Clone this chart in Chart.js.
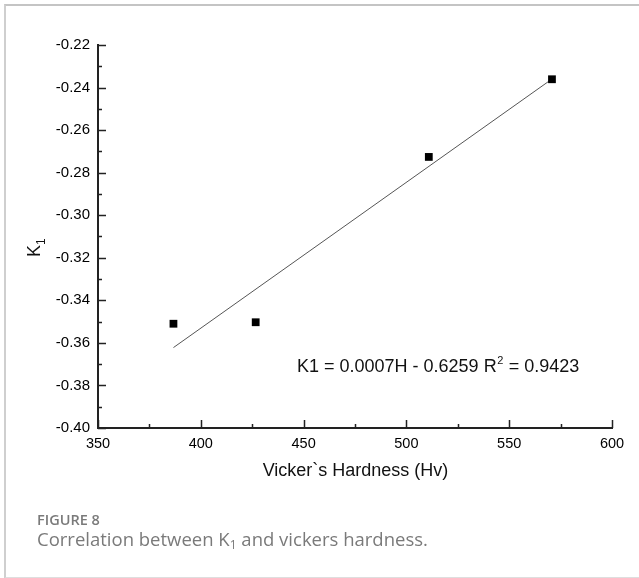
<!DOCTYPE html>
<html>
<head>
<meta charset="utf-8">
<script src="https://cdn.jsdelivr.net/npm/chart.js@4.4.1/dist/chart.umd.min.js"></script>
<style>
  html, body { margin: 0; padding: 0; background: #fff; }
  #wrap { position: relative; width: 639px; height: 578px; overflow: hidden; }
  #frame {
    position: absolute; left: 4px; top: 4px; width: 640px; height: 571px;
    border-top: 2px solid #c4c4c4; border-left: 2px solid #cfcfcf; border-bottom: 2px solid #dedede;
  }
  #chartBox { position: absolute; left: 0; top: 0; width: 639px; height: 578px; }
  .fig { position: absolute; left: 37px; font-family: "Open Sans", sans-serif; color: #7a7a7a; }
  #figNo { top: 510px; font-size: 14.5px; font-weight: 600; }
  #figCap { top: 526px; font-size: 18.5px; }
  #figCap sub { font-size: 12px; vertical-align: -3px; }
</style>
</head>
<body>
<div id="wrap">
  <div id="frame"></div>
  <div id="chartBox"><canvas id="myChart" width="639" height="578"></canvas></div>
  <div class="fig" id="figNo">FIGURE 8</div>
  <div class="fig" id="figCap">Correlation between K<sub>1</sub> and vickers hardness.</div>
</div>
<script>
// measured points
const hardness = [386.7, 426.7, 510.9, 570.8];
const k1 = [-0.351, -0.3503, -0.2726, -0.2361];

// fitted line end points
const fitX = [386.7, 570.8];
const fitY = [-0.3622, -0.2360];

const xTicks = [350, 400, 450, 500, 550, 600];
const yTicks = [-0.40, -0.38, -0.36, -0.34, -0.32, -0.30, -0.28, -0.26, -0.24, -0.22];

const axisFont = "'Liberation Sans', Arial, sans-serif";

// ticks drawn on the inside of the axes, with a minor tick in between
const innerTicks = {
  id: 'innerTicks',
  afterDraw(chart) {
    const ctx = chart.ctx;
    const xs = chart.scales.x, ys = chart.scales.y;
    const area = chart.chartArea;
    ctx.save();
    ctx.strokeStyle = '#222';
    ctx.lineWidth = 1.5;
    ctx.beginPath();
    xTicks.forEach((v, i) => {
      const px = Math.round(xs.getPixelForValue(v)) + 0.5;
      ctx.moveTo(px, area.bottom); ctx.lineTo(px, area.bottom - 8);
      if (i < xTicks.length - 1) {
        const mx = Math.round(xs.getPixelForValue((v + xTicks[i + 1]) / 2)) + 0.5;
        ctx.moveTo(mx, area.bottom); ctx.lineTo(mx, area.bottom - 4);
      }
    });
    yTicks.forEach((v, i) => {
      const py = Math.round(ys.getPixelForValue(v)) + 0.5;
      ctx.moveTo(area.left, py); ctx.lineTo(area.left + 8, py);
      if (i < yTicks.length - 1) {
        const my = Math.round(ys.getPixelForValue((v + yTicks[i + 1]) / 2)) + 0.5;
        ctx.moveTo(area.left, my); ctx.lineTo(area.left + 4, my);
      }
    });
    ctx.stroke();

    // axis titles
    ctx.fillStyle = '#111';
    ctx.font = '18px ' + axisFont;
    ctx.textAlign = 'center';
    ctx.textBaseline = 'middle';
    ctx.fillText('Vicker`s Hardness (Hv)', 355.5, 471);

    ctx.save();
    ctx.translate(40, 248);
    ctx.rotate(-Math.PI / 2);
    ctx.textAlign = 'left';
    ctx.textBaseline = 'alphabetic';
    ctx.font = '18px ' + axisFont;
    ctx.fillText('K', -9, 0);
    const kw = ctx.measureText('K').width;
    ctx.font = '12px ' + axisFont;
    ctx.fillText('1', -9 + kw, 5);
    ctx.restore();

    // regression equation
    ctx.textAlign = 'left';
    ctx.textBaseline = 'alphabetic';
    let x = 297;
    const base = 372;
    ctx.font = '18px ' + axisFont;
    const part1 = 'K1 = 0.0007H - 0.6259 R';
    ctx.fillText(part1, x, base);
    x += ctx.measureText(part1).width;
    ctx.font = '11px ' + axisFont;
    ctx.fillText('2', x + 0.5, base - 8);
    x += ctx.measureText('2').width + 1;
    ctx.font = '18px ' + axisFont;
    ctx.fillText(' = 0.9423', x, base);
    ctx.restore();
  }
};

new Chart(document.getElementById('myChart'), {
  type: 'scatter',
  data: {
    datasets: [{
      label: 'K1',
      data: hardness.map((h, i) => ({x: h, y: k1[i]})),
      pointStyle: 'rect',
      pointRadius: 5.5,
      backgroundColor: '#000',
      borderColor: '#000',
      borderWidth: 0
    }, {
      label: 'Linear fit',
      data: fitX.map((h, i) => ({x: h, y: fitY[i]})),
      showLine: true,
      pointRadius: 0,
      borderColor: '#555',
      borderWidth: 1,
      fill: false
    }]
  },
  options: {
    responsive: false,
    animation: false,
    events: [],
    layout: {padding: {top: 45, right: 27, bottom: 0, left: 0}},
    plugins: {legend: {display: false}, tooltip: {enabled: false}},
    scales: {
      x: {
        type: 'linear', min: 350, max: 600,
        afterFit: s => { s.height = 150; },
        afterBuildTicks: s => { s.ticks = xTicks.map(v => ({value: v})); },
        grid: {display: true, drawOnChartArea: false, drawTicks: false},
        border: {display: true, color: '#222', width: 2},
        ticks: {padding: 7, color: '#000', font: {family: axisFont, size: 14.5}, maxRotation: 0}
      },
      y: {
        type: 'linear', min: -0.40, max: -0.22,
        afterFit: s => { s.width = 98; },
        afterBuildTicks: s => { s.ticks = yTicks.map(v => ({value: v})); },
        grid: {display: true, drawOnChartArea: false, drawTicks: false},
        border: {display: true, color: '#222', width: 2},
        ticks: {padding: 8, color: '#000', font: {family: axisFont, size: 15},
                callback: v => v.toFixed(2)}
      }
    }
  },
  plugins: [innerTicks]
});
</script>
</body>
</html>
